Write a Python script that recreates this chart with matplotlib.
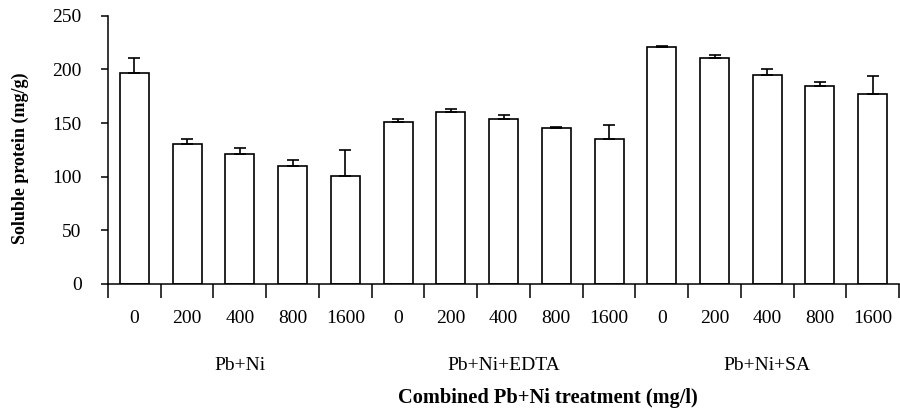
import matplotlib
matplotlib.use("Agg")
import matplotlib.pyplot as plt
import numpy as np

# Data
groups = ["Pb+Ni", "Pb+Ni+EDTA", "Pb+Ni+SA"]
doses = ["0", "200", "400", "800", "1600"]
protein = [196.5, 130.0, 121.5, 110.3, 100.4,
           150.8, 160.5, 153.3, 145.2, 135.5,
           220.6, 210.6, 195.0, 184.1, 177.0]
protein_err = [14.0, 5.5, 5.6, 5.3, 24.0,
               2.8, 3.0, 4.4, 1.2, 12.4,
               1.3, 2.8, 5.6, 4.4, 17.0]

plt.rcParams['font.family'] = ['Liberation Serif', 'DejaVu Serif']

fig = plt.figure(figsize=(9, 4.08), dpi=100)
ax = fig.add_axes([0.12, 0.3047, 0.879, 0.6563])

x = np.arange(len(protein))
ax.bar(x, protein, width=0.55, color='white', edgecolor='black', linewidth=1.2)
ax.errorbar(x, protein, yerr=[np.zeros(len(protein_err)), protein_err],
            fmt='none', ecolor='black', elinewidth=1.2, capsize=4, capthick=1.2)

ax.set_xlim(-0.5, len(protein) - 0.5)
ax.set_ylim(0, 250)
ax.set_yticks(np.arange(0, 251, 50))
ax.tick_params(axis='y', direction='out', length=5, width=1.1, labelsize=14, pad=14)

# ticks between bars, labels centered under bars
ax.set_xticks(np.arange(-0.5, len(protein), 1.0))
ax.set_xticklabels([])
ax.tick_params(axis='x', direction='out', length=10, width=1.1)
ax.set_xticks(x, minor=True)
ax.set_xticklabels(doses * len(groups), minor=True)
ax.tick_params(axis='x', which='minor', length=0, labelsize=14, pad=19)

for sp in ['top', 'right']:
    ax.spines[sp].set_visible(False)
for sp in ['left', 'bottom']:
    ax.spines[sp].set_linewidth(1.1)

# group labels
for i, g in enumerate(groups):
    ax.text(i * len(doses) + 2, -0.305, g, transform=ax.get_xaxis_transform(),
            ha='center', va='center', fontsize=14)

ax.set_xlabel("Combined Pb+Ni treatment (mg/l)", fontsize=14.7, fontweight='bold')
ax.xaxis.set_label_coords(0.556, -0.427)
ax.xaxis.label.set_va('center')
ax.set_ylabel("Soluble protein (mg/g)", fontsize=13, fontweight='bold')
ax.yaxis.set_label_coords(-0.111, 0.47)
ax.yaxis.label.set_va('center')

fig.savefig("out.png", dpi=100)
